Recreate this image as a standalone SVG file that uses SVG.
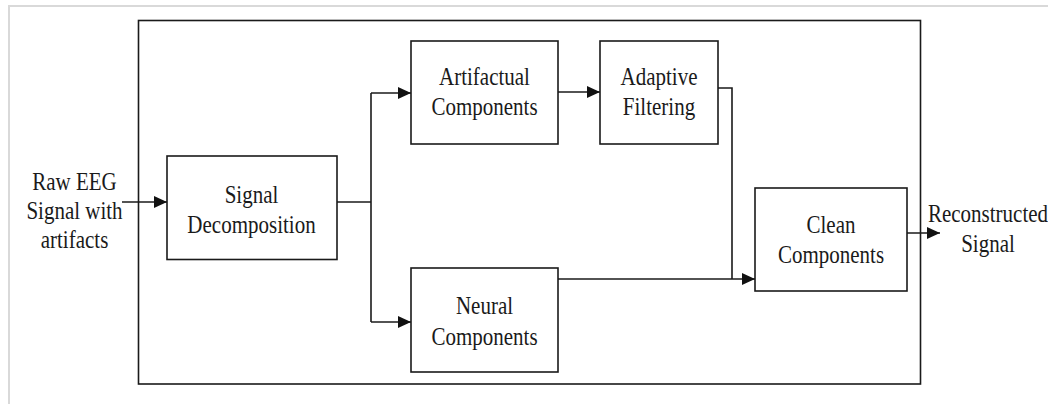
<svg xmlns="http://www.w3.org/2000/svg" width="1048" height="404" viewBox="0 0 1048 404">
<defs>
<style>
.frame{stroke:#d9d9d9;stroke-width:2;fill:none}
.box{fill:#fff;stroke:#1a1a1a;stroke-width:1.6}
.line{fill:none;stroke:#1a1a1a;stroke-width:1.6}
.t{font-family:'Liberation Serif','Times New Roman',Tinos,'DejaVu Serif',serif;font-size:21px;fill:#1a1a1a;text-anchor:middle}
</style>
<marker id="arr" markerWidth="14" markerHeight="14" refX="13" refY="6" orient="auto" markerUnits="userSpaceOnUse">
<path d="M0,0 L13,6 L0,12 Z" fill="#111"/>
</marker>
</defs>
<rect width="1048" height="404" fill="#fff"/>
<path class="frame" d="M9,404 V6 H1048"/>
<rect id="outer" class="box" x="138.5" y="20.5" width="782" height="363.5" fill="none"/>

<g id="connectors">
<line class="line" x1="122" y1="202" x2="167" y2="202" marker-end="url(#arr)"/>
<polyline class="line" points="337,202 371,202"/>
<polyline class="line" points="371,93 371,322"/>
<line class="line" x1="371" y1="93" x2="411" y2="93" marker-end="url(#arr)"/>
<line class="line" x1="371" y1="322" x2="411" y2="322" marker-end="url(#arr)"/>
<line class="line" x1="558" y1="92" x2="600" y2="92" marker-end="url(#arr)"/>
<polyline class="line" points="718,88 732,88 732,279"/>
<line class="line" x1="558" y1="279" x2="755" y2="279" marker-end="url(#arr)"/>
<line class="line" x1="907" y1="233" x2="940" y2="233" marker-end="url(#arr)"/>
</g>

<g id="input">
<text class="t" font-family="Liberation Serif, serif" transform="translate(74.5,190) scale(1,1.2)">Raw EEG</text>
<text class="t" transform="translate(74.5,219) scale(1,1.2)">Signal with</text>
<text class="t" transform="translate(74.5,248) scale(1,1.2)">artifacts</text>
</g>

<g id="decomposition">
<rect class="box" x="167" y="156" width="170" height="103.5"/>
<text class="t" transform="translate(251.5,203) scale(1,1.2)">Signal</text>
<text class="t" transform="translate(251.5,233) scale(1,1.2)">Decomposition</text>
</g>

<g id="artifactual">
<rect class="box" x="411" y="41" width="147" height="103"/>
<text class="t" transform="translate(484.5,85) scale(1,1.2)">Artifactual</text>
<text class="t" transform="translate(484.5,115) scale(1,1.2)">Components</text>
</g>

<g id="adaptive">
<rect class="box" x="600" y="41" width="118" height="103"/>
<text class="t" transform="translate(659,85) scale(1,1.2)">Adaptive</text>
<text class="t" transform="translate(659,115) scale(1,1.2)">Filtering</text>
</g>

<g id="neural">
<rect class="box" x="411" y="268" width="147" height="104"/>
<text class="t" transform="translate(484.5,314) scale(1,1.2)">Neural</text>
<text class="t" transform="translate(484.5,345) scale(1,1.2)">Components</text>
</g>

<g id="clean">
<rect class="box" x="755" y="188" width="152" height="103"/>
<text class="t" transform="translate(831,233) scale(1,1.2)">Clean</text>
<text class="t" transform="translate(831,263) scale(1,1.2)">Components</text>
</g>

<g id="output">
<text class="t" transform="translate(988,222) scale(1,1.2)">Reconstructed</text>
<text class="t" transform="translate(988,252) scale(1,1.2)">Signal</text>
</g>
</svg>
